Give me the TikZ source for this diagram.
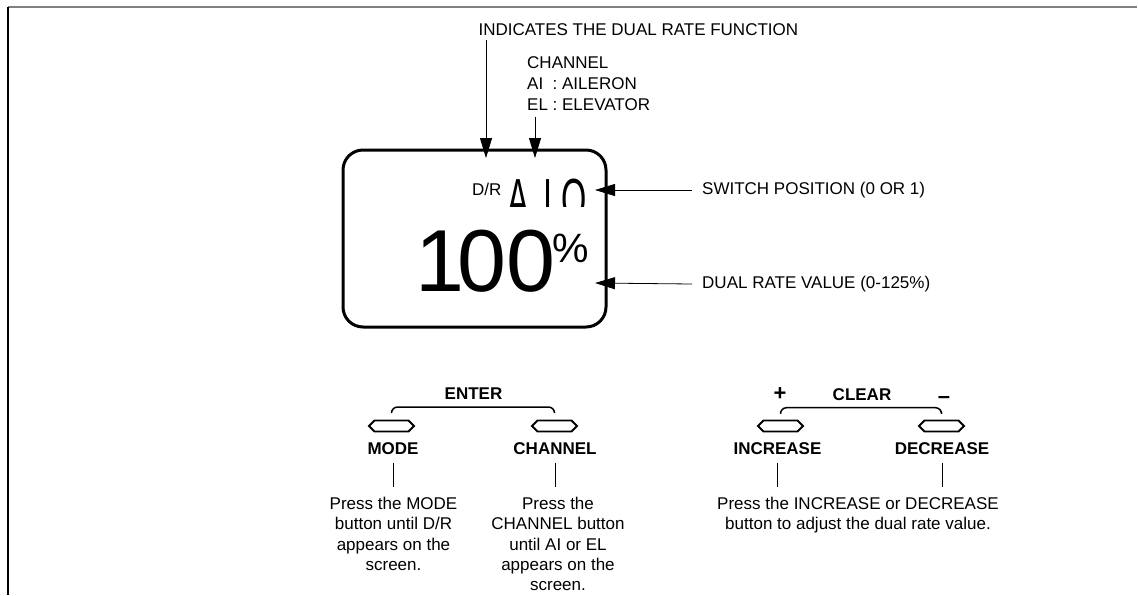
\documentclass[tikz,border=0pt]{standalone}
\usepackage{fontspec}
\setmainfont{Liberation Sans}
\usetikzlibrary{arrows.meta,positioning,shapes.symbols}

\newcommand{\lcdnarrow}[1]{\scalebox{0.56}[1]{#1}}

\begin{document}
\begin{tikzpicture}[x=1pt,y=-1pt,
    lbl/.style={inner sep=0pt, font=\fontsize{17}{20}\selectfont},
    keylbl/.style={inner sep=0pt, font=\fontsize{17}{20}\selectfont\bfseries},
    signlbl/.style={inner sep=0pt, font=\fontsize{22}{22}\selectfont\bfseries},
    desc/.style={inner sep=0pt, align=center, anchor=north, font=\fontsize{17}{20.3}\selectfont},
    ptr/.style={-{Triangle[length=20pt,width=12pt]}, line width=0.8pt},
    btn/.style={draw, signal, signal to=west and east, line width=1.8pt, minimum width=45pt, minimum height=11pt, inner sep=0pt},
    bracket/.style={line width=1.5pt, rounded corners=6pt},
    lead/.style={line width=0.8pt}]
  \useasboundingbox (0,0) rectangle (1138,595);

  % Frame
  \draw[line width=2pt, gray] (8,7) -- (1137,7);
  \draw[line width=2pt] (8,7) -- (8,595);

  % Display
  \node[draw, line width=3pt, rounded corners=20pt, minimum width=263pt, minimum height=177pt] (lcd) at (474.5,238.5) {};
  \node[lbl, anchor=base west] (drtag) at (472,195.5) {D/R};
  \begin{scope}
    \clip (500,165) rectangle (600,206);
    \node[inner sep=0pt, anchor=base west, font=\fontsize{58}{58}\selectfont] (chsw) at (507,219) {\lcdnarrow{A\hspace{26pt}I\hspace{16pt}O}};
  \end{scope}
  \node[inner sep=0pt, anchor=base west, font=\fontsize{88}{88}\selectfont] (rate) at (415.5,291) {1\kern-7pt 00\kern-3pt{\fontsize{41}{41}\selectfont\raisebox{29pt}{\%}}};

  % Top labels
  \node[lbl, anchor=base west] (func) at (478.4,35) {INDICATES THE DUAL RATE FUNCTION};
  \node[inner sep=0pt, anchor=north west, font=\fontsize{17}{21}\selectfont] (chan) at (527,53.3)
    {\begin{tabular}{@{}l@{\ :\ }l@{}}\multicolumn{2}{@{}l@{}}{CHANNEL}\\AI&AILERON\\EL&ELEVATOR\end{tabular}};
  \coordinate (functip) at (486,158);
  \coordinate (chantip) at (535,158);
  \draw[ptr] ([yshift=-5pt]func.south west -| functip) -- (functip);
  \draw[ptr] (chan.south west -| chantip) -- (chantip);

  % Right labels
  \node[lbl, anchor=west] (swpos) at (702,190) {SWITCH POSITION (0 OR 1)};
  \node[lbl, anchor=west] (drval) at (702,284) {DUAL RATE VALUE (0-125\%)};
  \coordinate (swtip) at (595,190);
  \coordinate (drtip) at (595,283);
  \draw[ptr] ([xshift=-10pt]swpos.west) -- (swtip);
  \draw[ptr] ([xshift=-10pt]drval.west) -- (drtip);

  % Buttons
  \node[btn] (modebtn) at (391.5,426) {};
  \node[btn] (chanbtn) at (554.5,426) {};
  \node[btn] (incbtn) at (780.5,426) {};
  \node[btn] (decbtn) at (941.5,426) {};

  \node[keylbl] (enter) at (473.5,394) {ENTER};
  \node[keylbl] (clear) at (862,394.5) {CLEAR};
  \node[signlbl] (plus) at (780,394.5) {+};
  \node[signlbl] (minus) at (944,400) {\textendash};
  \node[keylbl] (modelbl) at (393,448.5) {MODE};
  \node[keylbl] (chanlbl) at (555,448.5) {CHANNEL};
  \node[keylbl] (inclbl) at (777.5,448.5) {INCREASE};
  \node[keylbl] (declbl) at (942,448.5) {DECREASE};

  \draw[bracket] ([yshift=7pt]modebtn.north) |- ([yshift=-7pt]enter.south) -| ([yshift=7pt]chanbtn.north);
  \draw[bracket] ([yshift=7pt]incbtn.north) |- ([yshift=-7pt]clear.south) -| ([yshift=7pt]decbtn.north);

  % Descriptions
  \node[desc] (modedesc) at (393.5,497) {Press the MODE\\button until D/R\\appears on the\\screen.};
  \node[desc] (chandesc) at (558,497) {Press the\\CHANNEL button\\until AI or EL\\appears on the\\screen.};
  \node[desc] (incdesc) at (858,497) {Press the INCREASE or DECREASE\\button to adjust the dual rate value.};

  \draw[lead] ([yshift=-8pt]modelbl.south) -- ([yshift=10pt]modelbl.south |- modedesc.north);
  \draw[lead] ([yshift=-8pt]chanlbl.south) -- ([yshift=10pt]chanlbl.south |- chandesc.north);
  \draw[lead] ([yshift=-8pt]inclbl.south) -- ([yshift=10pt]inclbl.south |- incdesc.north);
  \draw[lead] ([yshift=-8pt]declbl.south) -- ([yshift=10pt]declbl.south |- incdesc.north);
\end{tikzpicture}
\end{document}
